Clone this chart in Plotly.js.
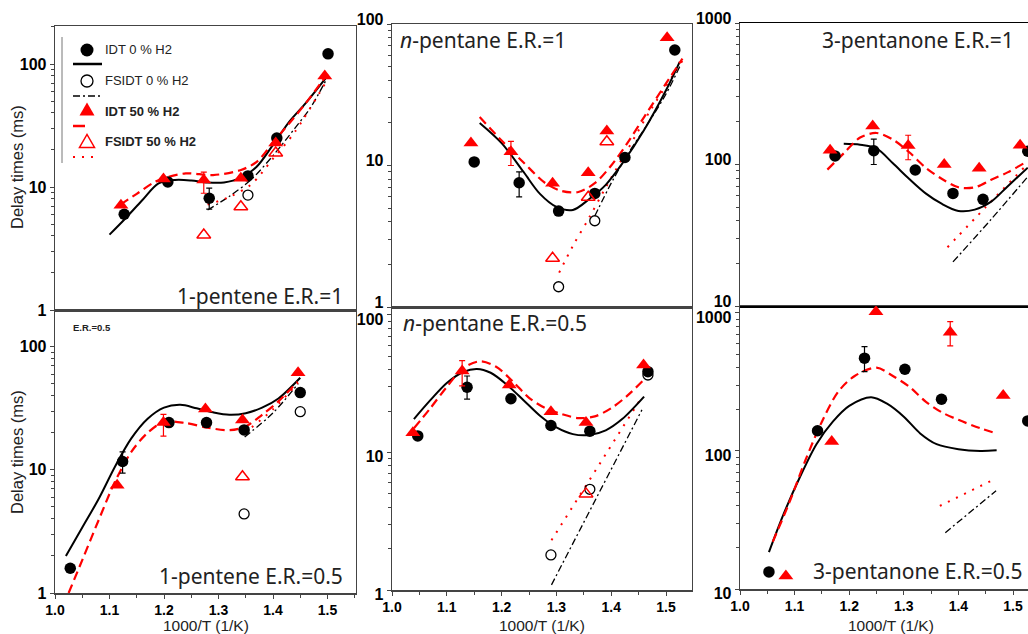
<!DOCTYPE html>
<html>
<head>
<meta charset="utf-8">
<script src="https://cdn.plot.ly/plotly-3.0.1.min.js"></script>
<style>
html,body{margin:0;padding:0;overflow:hidden;background:#fff;}
#chart{width:1050px;height:634px;}
</style>
</head>
<body>
<div id="chart"></div>
<script>
// ---------------- DATA ----------------
// Panel 1: 1-pentene E.R.=1
const pentene1_idt0_T = [1.127, 1.207, 1.283, 1.354, 1.407, 1.501];
const pentene1_idt0 = [6.0, 11.0, 8.1, 12.3, 25, 121];
const pentene1_idt0_hi = [null, null, 9.8, null, null, null];
const pentene1_idt0_lo = [null, null, 6.6, null, null, null];
const pentene1_fsidt0_T = [1.354];
const pentene1_fsidt0 = [8.6];
const pentene1_idt50_T = [1.121, 1.199, 1.273, 1.341, 1.405, 1.495];
const pentene1_idt50 = [7.1, 11.6, 11.4, 11.8, 22.8, 80];
const pentene1_idt50_hi = [null, null, 13.2, null, null, null];
const pentene1_idt50_lo = [null, null, 8.9, null, null, null];
const pentene1_fsidt50_T = [1.273, 1.341, 1.405];
const pentene1_fsidt50 = [4.07, 6.9, 18.9];
const pentene1_mod0_T = [1.10, 1.13, 1.16, 1.19, 1.22, 1.25, 1.28, 1.31, 1.34, 1.37, 1.40, 1.43, 1.46, 1.50];
const pentene1_mod0 = [4.1, 5.6, 7.8, 10.7, 11.4, 11.3, 10.9, 10.9, 11.8, 14.6, 22, 34, 48, 80];
const pentene1_fsmod0_T = [1.28, 1.32, 1.36, 1.40, 1.44, 1.47, 1.50];
const pentene1_fsmod0 = [6.5, 8.4, 11.5, 18, 30, 45, 78];
const pentene1_mod50_T = [1.12, 1.15, 1.18, 1.20, 1.24, 1.29, 1.34, 1.37, 1.40, 1.43, 1.46, 1.50];
const pentene1_mod50 = [7.2, 8.8, 10.8, 11.8, 12.9, 12.5, 13.7, 16, 23, 33, 48, 83];
const pentene1_fsmod50_T = [1.28, 1.32, 1.36, 1.40, 1.44, 1.50];
const pentene1_fsmod50 = [7.2, 8.3, 10.5, 17, 28, 75];

// Panel 2: n-pentane E.R.=1
const pentane1_idt0_T = [1.150, 1.232, 1.304, 1.370, 1.425, 1.516];
const pentane1_idt0 = [10.6, 7.55, 4.76, 6.35, 11.4, 65.5];
const pentane1_idt0_hi = [null, 9.0, null, null, null, null];
const pentane1_idt0_lo = [null, 6.0, null, null, null, null];
const pentane1_fsidt0_T = [1.304, 1.370];
const pentane1_fsidt0 = [1.39, 4.07];
const pentane1_idt50_T = [1.144, 1.217, 1.293, 1.358, 1.392, 1.502];
const pentane1_idt50 = [14.4, 12.5, 7.5, 8.9, 17.5, 80];
const pentane1_idt50_hi = [null, 14.8, null, null, null, null];
const pentane1_idt50_lo = [null, 10.0, null, null, null, null];
const pentane1_fsidt50_T = [1.293, 1.358, 1.392];
const pentane1_fsidt50 = [2.21, 5.96, 14.7];
const pentane1_mod0_T = [1.16, 1.20, 1.24, 1.27, 1.30, 1.33, 1.36, 1.39, 1.42, 1.46, 1.50, 1.525];
const pentane1_mod0 = [20, 14.4, 9.0, 6.3, 5.1, 4.85, 5.8, 7.3, 10.3, 17.8, 34, 54];
const pentane1_fsmod0_T = [1.37, 1.40, 1.43, 1.46, 1.50, 1.525];
const pentane1_fsmod0 = [4.4, 7.5, 12, 18, 32, 50];
const pentane1_mod50_T = [1.16, 1.20, 1.24, 1.28, 1.31, 1.34, 1.37, 1.40, 1.43, 1.46, 1.50, 1.53];
const pentane1_mod50 = [22, 15, 10.5, 7.5, 6.6, 6.5, 7.5, 10, 14.5, 22, 38, 57];
const pentane1_fsmod50_T = [1.305, 1.33, 1.36, 1.39, 1.43, 1.47, 1.53];
const pentane1_fsmod50 = [1.75, 2.7, 4.3, 7, 13, 24, 55];

// Panel 3: 3-pentanone E.R.=1
const pentanone1_idt0_T = [1.174, 1.245, 1.321, 1.390, 1.445, 1.527];
const pentanone1_idt0 = [115, 125, 91.5, 62.5, 56.7, 124];
const pentanone1_idt0_hi = [null, 151, null, null, null, null];
const pentanone1_idt0_lo = [null, 100, null, null, null, null];
const pentanone1_idt50_T = [1.165, 1.243, 1.308, 1.374, 1.438, 1.513];
const pentanone1_idt50 = [126, 187, 136, 100, 94, 137];
const pentanone1_idt50_hi = [null, null, 161, null, null, null];
const pentanone1_idt50_lo = [null, null, 108, null, null, null];
const pentanone1_mod0_T = [1.19, 1.22, 1.25, 1.28, 1.31, 1.34, 1.37, 1.40, 1.43, 1.46, 1.49, 1.527];
const pentanone1_mod0 = [140, 138, 130, 102, 79, 62.5, 52.6, 47, 48, 54.6, 70, 95];
const pentanone1_fsmod0_T = [1.39, 1.46, 1.527];
const pentanone1_fsmod0 = [20.5, 41, 82];
const pentanone1_mod50_T = [1.16, 1.19, 1.22, 1.25, 1.28, 1.31, 1.34, 1.37, 1.40, 1.43, 1.46, 1.49, 1.52];
const pentanone1_mod50 = [92, 120, 155, 167, 150, 122, 95, 79, 69, 69, 78, 88, 102];
const pentanone1_fsmod50_T = [1.38, 1.45, 1.52];
const pentanone1_fsmod50 = [26, 50, 95];

// Panel 4: 1-pentene E.R.=0.5
const pentene05_idt0_T = [1.028, 1.124, 1.209, 1.278, 1.347, 1.450];
const pentene05_idt0 = [1.59, 11.7, 24.2, 24.2, 21.1, 42.4];
const pentene05_idt0_hi = [null, 14.0, null, null, null, null];
const pentene05_idt0_lo = [null, 9.4, null, null, null, null];
const pentene05_fsidt0_T = [1.347, 1.450];
const pentene05_fsidt0 = [4.39, 29.7];
const pentene05_idt50_T = [1.114, 1.199, 1.276, 1.344, 1.446];
const pentene05_idt50 = [7.5, 24.2, 31.2, 25.4, 61.5];
const pentene05_idt50_hi = [null, 28.2, null, null, null];
const pentene05_idt50_lo = [null, 18.8, null, null, null];
const pentene05_fsidt50_T = [1.344];
const pentene05_fsidt50 = [8.8];
const pentene05_mod0_T = [1.02, 1.05, 1.08, 1.11, 1.14, 1.17, 1.20, 1.23, 1.26, 1.29, 1.32, 1.35, 1.38, 1.41, 1.45];
const pentene05_mod0 = [2.0, 3.4, 5.8, 10.6, 18, 26, 32, 33.7, 31.6, 29.3, 28, 28.8, 32, 38, 56];
const pentene05_fsmod0_T = [1.348, 1.40, 1.446];
const pentene05_fsmod0 = [18.5, 29, 50];
const pentene05_mod50_T = [1.025, 1.05, 1.08, 1.11, 1.14, 1.17, 1.20, 1.24, 1.28, 1.32, 1.35, 1.38, 1.41, 1.445];
const pentene05_mod50 = [1.0, 1.85, 3.9, 8.0, 14, 20, 24.5, 24, 22, 21, 22.5, 28, 36, 52];
const pentene05_fsmod50_T = [1.348, 1.40, 1.446];
const pentene05_fsmod50 = [20, 31, 51];

// Panel 5: n-pentane E.R.=0.5
const pentane05_idt0_T = [1.047, 1.137, 1.217, 1.290, 1.361, 1.467];
const pentane05_idt0 = [13.2, 29.8, 24.6, 15.7, 14.3, 38.7];
const pentane05_idt0_hi = [null, 36, null, null, null, null];
const pentane05_idt0_lo = [null, 24.4, null, null, null, null];
const pentane05_fsidt0_T = [1.290, 1.361, 1.467];
const pentane05_fsidt0 = [1.80, 5.4, 36.6];
const pentane05_idt50_T = [1.038, 1.128, 1.214, 1.290, 1.354, 1.459];
const pentane05_idt50 = [13.9, 39.2, 31, 19.8, 16.5, 43.3];
const pentane05_idt50_hi = [null, 46.6, null, null, null, null];
const pentane05_idt50_lo = [null, 30.5, null, null, null, null];
const pentane05_fsidt50_T = [1.354];
const pentane05_fsidt50 = [5.0];
const pentane05_mod0_T = [1.04, 1.07, 1.10, 1.13, 1.155, 1.18, 1.21, 1.24, 1.27, 1.30, 1.33, 1.36, 1.39, 1.42, 1.46];
const pentane05_mod0 = [17.5, 24, 32, 38.5, 40.5, 38, 31, 24, 18.5, 15.2, 13.6, 13.4, 14.5, 17.5, 25.5];
const pentane05_fsmod0_T = [1.291, 1.456];
const pentane05_fsmod0 = [1.09, 20.4];
const pentane05_mod50_T = [1.04, 1.07, 1.10, 1.13, 1.16, 1.19, 1.22, 1.25, 1.28, 1.31, 1.34, 1.37, 1.40, 1.43, 1.46];
const pentane05_mod50 = [15, 21, 30, 41, 46, 42, 33, 25, 21, 19, 17.8, 18.3, 21, 26, 34];
const pentane05_fsmod50_T = [1.291, 1.455];
const pentane05_fsmod50 = [2.3, 25];

// Panel 6: 3-pentanone E.R.=0.5
const pentanone05_idt0_T = [1.053, 1.142, 1.228, 1.302, 1.369, 1.527];
const pentanone05_idt0 = [13.3, 140, 470, 391, 237, 165];
const pentanone05_idt0_hi = [null, null, 570, null, null, null];
const pentanone05_idt0_lo = [null, null, 376, null, null, null];
const pentanone05_idt50_T = [1.084, 1.168, 1.249, 1.385, 1.482];
const pentanone05_idt50 = [12.4, 117, 1020, 725, 252];
const pentanone05_idt50_hi = [null, null, null, 865, null];
const pentanone05_idt50_lo = [null, null, null, 577, null];
const pentanone05_mod0_T = [1.053, 1.08, 1.11, 1.14, 1.17, 1.20, 1.24, 1.27, 1.30, 1.33, 1.36, 1.40, 1.44, 1.47];
const pentanone05_mod0 = [18.5, 35, 65, 112, 163, 212, 245, 219, 177, 134, 112, 103, 100, 101];
const pentanone05_fsmod0_T = [1.376, 1.469];
const pentanone05_fsmod0 = [25.6, 51.5];
const pentanone05_mod50_T = [1.06, 1.09, 1.12, 1.15, 1.18, 1.21, 1.25, 1.28, 1.31, 1.34, 1.37, 1.40, 1.44, 1.47];
const pentanone05_mod50 = [22, 42, 86, 163, 269, 349, 401, 349, 292, 228, 190, 168, 146, 134];
const pentanone05_fsmod50_T = [1.366, 1.468];
const pentanone05_fsmod50 = [40, 63];

// Tick labels and texts
const xTickVals = [1.0, 1.1, 1.2, 1.3, 1.4, 1.5];
const xTickText = ['1.0', '1.1', '1.2', '1.3', '1.4', '1.5'];
const legendLabels = ['IDT 0 % H2', 'FSIDT 0 % H2', 'IDT 50 % H2', 'FSIDT 50 % H2'];
const panelLabels = ['1-pentene E.R.=1', '<i>n</i>-pentane E.R.=1', '3-pentanone E.R.=1',
                     '1-pentene E.R.=0.5', '<i>n</i>-pentane E.R.=0.5', '3-pentanone E.R.=0.5'];
const xTitle = '1000/T (1/K)';
const yTitle = 'Delay times (ms)';

// ---------------- LAYOUT HELPERS ----------------
const W = 1050, H = 634;
const PX = v => v / W;
const PY = v => 1 - v / H;
const RED = '#ff0000';
const ARIAL = 'Liberation Sans, Arial, sans-serif';
const YTICKFONT = {family: ARIAL, size: 16, color: '#000', weight: 'bold'};
const XTICKFONT = {family: ARIAL, size: 14, color: '#000', weight: 'bold'};
const LABFONT = {family: 'Noto Sans, Open Sans, sans-serif', size: 21, color: '#222'};

function errArrays(y, hi, lo) {
  return {
    type: 'data', symmetric: false,
    array: y.map((v, i) => hi[i] == null ? NaN : hi[i] - v),
    arrayminus: y.map((v, i) => lo[i] == null ? NaN : v - lo[i]),
    thickness: 1.2, width: 3
  };
}
function lineTr(x, y, ax, line) {
  return {x: x, y: y, xaxis: 'x' + ax, yaxis: 'y' + ax, mode: 'lines',
          line: Object.assign({shape: 'spline', smoothing: 0.9}, line), hoverinfo: 'skip'};
}
function markTr(x, y, ax, marker, err, errColor) {
  const t = {x: x, y: y, xaxis: 'x' + ax, yaxis: 'y' + ax, mode: 'markers', marker: marker, cliponaxis: true};
  if (err) { err.color = errColor; t.error_y = err; }
  return t;
}
const ST = {
  mod0: {color: '#000', width: 2},
  fsmod0: {color: '#000', width: 1.3, dash: '7px,3px,2px,3px'},
  mod50: {color: RED, width: 2.2, dash: '9px,5px'},
  fsmod50: {color: RED, width: 2, dash: '2px,7px'}
};
const MK = {
  idt0: {symbol: 'circle', size: 11.5, color: '#000'},
  fsidt0: {symbol: 'circle-open', size: 10, color: '#000', line: {width: 1.3}},
  idt50: {symbol: 'triangle-up', size: 13, color: RED},
  fsidt50: {symbol: 'triangle-up-open', size: 12, color: RED, line: {width: 1.5}}
};

const traces = [];
function addPanel(ax, d) {
  if (d.fsmod0) traces.push(lineTr(d.fsmod0[0], d.fsmod0[1], ax, ST.fsmod0));
  if (d.fsmod50) traces.push(lineTr(d.fsmod50[0], d.fsmod50[1], ax, ST.fsmod50));
  traces.push(lineTr(d.mod0[0], d.mod0[1], ax, ST.mod0));
  traces.push(lineTr(d.mod50[0], d.mod50[1], ax, ST.mod50));
  traces.push(markTr(d.idt0[0], d.idt0[1], ax, MK.idt0, errArrays(d.idt0[1], d.idt0[2], d.idt0[3]), '#000'));
  if (d.fsidt0) traces.push(markTr(d.fsidt0[0], d.fsidt0[1], ax, MK.fsidt0));
  traces.push(markTr(d.idt50[0], d.idt50[1], ax, MK.idt50, errArrays(d.idt50[1], d.idt50[2], d.idt50[3]), RED));
  if (d.fsidt50) traces.push(markTr(d.fsidt50[0], d.fsidt50[1], ax, MK.fsidt50));
}

addPanel('', {
  idt0: [pentene1_idt0_T, pentene1_idt0, pentene1_idt0_hi, pentene1_idt0_lo],
  fsidt0: [pentene1_fsidt0_T, pentene1_fsidt0],
  idt50: [pentene1_idt50_T, pentene1_idt50, pentene1_idt50_hi, pentene1_idt50_lo],
  fsidt50: [pentene1_fsidt50_T, pentene1_fsidt50],
  mod0: [pentene1_mod0_T, pentene1_mod0], fsmod0: [pentene1_fsmod0_T, pentene1_fsmod0],
  mod50: [pentene1_mod50_T, pentene1_mod50], fsmod50: [pentene1_fsmod50_T, pentene1_fsmod50]
});
addPanel('2', {
  idt0: [pentane1_idt0_T, pentane1_idt0, pentane1_idt0_hi, pentane1_idt0_lo],
  fsidt0: [pentane1_fsidt0_T, pentane1_fsidt0],
  idt50: [pentane1_idt50_T, pentane1_idt50, pentane1_idt50_hi, pentane1_idt50_lo],
  fsidt50: [pentane1_fsidt50_T, pentane1_fsidt50],
  mod0: [pentane1_mod0_T, pentane1_mod0], fsmod0: [pentane1_fsmod0_T, pentane1_fsmod0],
  mod50: [pentane1_mod50_T, pentane1_mod50], fsmod50: [pentane1_fsmod50_T, pentane1_fsmod50]
});
addPanel('3', {
  idt0: [pentanone1_idt0_T, pentanone1_idt0, pentanone1_idt0_hi, pentanone1_idt0_lo],
  idt50: [pentanone1_idt50_T, pentanone1_idt50, pentanone1_idt50_hi, pentanone1_idt50_lo],
  mod0: [pentanone1_mod0_T, pentanone1_mod0], fsmod0: [pentanone1_fsmod0_T, pentanone1_fsmod0],
  mod50: [pentanone1_mod50_T, pentanone1_mod50], fsmod50: [pentanone1_fsmod50_T, pentanone1_fsmod50]
});
addPanel('4', {
  idt0: [pentene05_idt0_T, pentene05_idt0, pentene05_idt0_hi, pentene05_idt0_lo],
  fsidt0: [pentene05_fsidt0_T, pentene05_fsidt0],
  idt50: [pentene05_idt50_T, pentene05_idt50, pentene05_idt50_hi, pentene05_idt50_lo],
  fsidt50: [pentene05_fsidt50_T, pentene05_fsidt50],
  mod0: [pentene05_mod0_T, pentene05_mod0], fsmod0: [pentene05_fsmod0_T, pentene05_fsmod0],
  mod50: [pentene05_mod50_T, pentene05_mod50], fsmod50: [pentene05_fsmod50_T, pentene05_fsmod50]
});
addPanel('5', {
  idt0: [pentane05_idt0_T, pentane05_idt0, pentane05_idt0_hi, pentane05_idt0_lo],
  fsidt0: [pentane05_fsidt0_T, pentane05_fsidt0],
  idt50: [pentane05_idt50_T, pentane05_idt50, pentane05_idt50_hi, pentane05_idt50_lo],
  fsidt50: [pentane05_fsidt50_T, pentane05_fsidt50],
  mod0: [pentane05_mod0_T, pentane05_mod0], fsmod0: [pentane05_fsmod0_T, pentane05_fsmod0],
  mod50: [pentane05_mod50_T, pentane05_mod50], fsmod50: [pentane05_fsmod50_T, pentane05_fsmod50]
});
addPanel('6', {
  idt0: [pentanone05_idt0_T, pentanone05_idt0, pentanone05_idt0_hi, pentanone05_idt0_lo],
  idt50: [pentanone05_idt50_T, pentanone05_idt50, pentanone05_idt50_hi, pentanone05_idt50_lo],
  mod0: [pentanone05_mod0_T, pentanone05_mod0], fsmod0: [pentanone05_fsmod0_T, pentanone05_fsmod0],
  mod50: [pentanone05_mod50_T, pentanone05_mod50], fsmod50: [pentanone05_fsmod50_T, pentanone05_fsmod50]
});

// ---------------- AXES ----------------
function minorVals(lo, hi) {
  const out = [];
  for (let e = lo; e < hi; e++) for (let k = 2; k <= 9; k++) out.push(k * Math.pow(10, e));
  return out;
}
function yAx(dom, range, vals, anchor, shift) {
  return {
    type: 'log', domain: [PY(dom[1]), PY(dom[0])], range: range, anchor: anchor,
    tickmode: 'array', tickvals: vals, ticktext: vals.map(String),
    ticks: 'outside', ticklen: 4, tickwidth: 1, tickcolor: '#444',
    showline: true, linecolor: '#444', linewidth: 1.3, mirror: true,
    showgrid: false, zeroline: false, tickfont: YTICKFONT, automargin: false,
    ticklabelshift: shift || 0,
    minor: {ticks: 'outside', ticklen: 2.5, tickwidth: 1, tickcolor: '#444',
            tickmode: 'array', tickvals: minorVals(Math.floor(range[0]), Math.ceil(range[1]))}
  };
}
function xAx(dom, range, bottom, anchor, lc) {
  const a = {
    domain: [PX(dom[0]), PX(dom[1])], range: range, anchor: anchor,
    showline: true, linecolor: lc || '#444', linewidth: 1.5, mirror: true,
    showgrid: false, zeroline: false, automargin: false
  };
  if (bottom) {
    Object.assign(a, {
      tickmode: 'array', tickvals: xTickVals, ticktext: xTickText,
      ticks: 'outside', ticklen: 4, tickwidth: 1, tickcolor: '#444', tickfont: XTICKFONT,
      minor: {ticks: 'outside', ticklen: 3, tickwidth: 1, tickcolor: '#444',
              tickmode: 'array', tickvals: [1.05, 1.15, 1.25, 1.35, 1.45, 1.55]}
    });
  } else {
    Object.assign(a, {showticklabels: false, ticks: ''});
  }
  return a;
}

const layout = {
  width: W, height: H, margin: {l: 0, r: 0, t: 0, b: 0},
  paper_bgcolor: '#fff', plot_bgcolor: 'rgba(0,0,0,0)', showlegend: false,
  xaxis:  xAx([55, 356], [1.0, 1.5523], false, 'y'),
  yaxis:  yAx([26, 310], [0, 2.309], [1, 10, 100], 'x'),
  xaxis2: xAx([392, 692], [1.0, 1.5474], false, 'y2'),
  yaxis2: yAx([24, 307], [0, 2], [1, 10, 100], 'x2', -5),
  xaxis3: xAx([740, 1046], [1.0, 1.5604], false, 'y3', '#000'),
  yaxis3: yAx([23, 306], [1, 3], [10, 100, 1000], 'x3', -5),
  xaxis4: xAx([55, 356], [1.0, 1.5523], true, 'y4'),
  yaxis4: yAx([310, 593], [0, 2.298], [1, 10, 100], 'x4'),
  xaxis5: xAx([392, 692], [1.0, 1.5474], true, 'y5'),
  yaxis5: yAx([307, 590], [0, 2.058], [1, 10, 100], 'x5', 4),
  xaxis6: xAx([740, 1046], [1.0, 1.5604], true, 'y6'),
  yaxis6: yAx([306, 589], [1, 3.05], [10, 100, 1000], 'x6', 4),
  annotations: [],
  shapes: []
};

const ann = layout.annotations, shp = layout.shapes;
function txt(text, x, y, xanchor, font, extra) {
  ann.push(Object.assign({text: text, x: PX(x), y: PY(y), xref: 'paper', yref: 'paper',
    xanchor: xanchor, yanchor: 'middle', showarrow: false, font: font}, extra || {}));
}
// Axis titles
const YT = {family: ARIAL, size: 16.5, color: '#222'};
txt(yTitle, 17, 167, 'center', YT, {textangle: -90});
txt(yTitle, 17, 452, 'center', YT, {textangle: -90});
const XT = {family: ARIAL, size: 15.5, color: '#222'};
txt(xTitle, 206, 625.5, 'center', XT);
txt(xTitle, 542, 625.5, 'center', XT);
txt(xTitle, 891, 625.5, 'center', XT);
// Panel labels
txt(panelLabels[0], 345, 296, 'right', LABFONT);
txt(panelLabels[1], 398, 40, 'left', LABFONT);
txt(panelLabels[2], 820, 40, 'left', LABFONT);
txt(panelLabels[3], 345, 576, 'right', LABFONT);
txt(panelLabels[4], 401, 323, 'left', LABFONT);
txt(panelLabels[5], 811, 571, 'left', LABFONT);
txt('<b>E.R.=0.5</b>', 71, 327, 'left', {family: ARIAL, size: 9.5, color: '#222'});

// Legend (panel 1)
const LF = {family: ARIAL, size: 13, color: '#222'};
txt(legendLabels[0], 103, 50, 'left', LF);
txt(legendLabels[1], 103, 81, 'left', LF);
txt('<b>' + legendLabels[2] + '</b>', 103, 111, 'left', LF);
txt('<b>' + legendLabels[3] + '</b>', 103, 142, 'left', LF);
function pshape(kind, x, y, style) {
  const base = {xref: 'paper', yref: 'paper', xsizemode: 'pixel', ysizemode: 'pixel',
                xanchor: PX(x), yanchor: PY(y), layer: 'above'};
  if (kind === 'circle') Object.assign(base, {type: 'circle', x0: -6.5, x1: 6.5, y0: -6.5, y1: 6.5});
  if (kind === 'ocircle') Object.assign(base, {type: 'circle', x0: -6, x1: 6, y0: -6, y1: 6});
  if (kind === 'tri') Object.assign(base, {type: 'path', path: 'M -7.5,-5.5 L 7.5,-5.5 L 0,7.5 Z'});
  shp.push(Object.assign(base, style));
}
function lshape(x0, x1, y, line) {
  shp.push({type: 'line', xref: 'paper', yref: 'paper', x0: PX(x0), x1: PX(x1), y0: PY(y), y1: PY(y), line: line, layer: 'above'});
}
shp.push({type: 'line', xref: 'paper', yref: 'paper', x0: PX(62), x1: PX(62), y0: PY(37), y1: PY(163),
          line: {color: '#777', width: 1}, layer: 'above'});
pshape('circle', 87, 50, {fillcolor: '#000', line: {color: '#000', width: 0}});
lshape(73, 102, 64, {color: '#000', width: 2.5});
pshape('ocircle', 87, 81, {fillcolor: 'rgba(0,0,0,0)', line: {color: '#000', width: 1.3}});
lshape(73, 100, 96, {color: '#000', width: 1.3, dash: '7px,3px,2px,3px'});
pshape('tri', 87, 110, {fillcolor: RED, line: {color: RED, width: 0}});
lshape(73, 85, 126, {color: RED, width: 2.5});
pshape('tri', 87, 142, {fillcolor: 'rgba(0,0,0,0)', line: {color: RED, width: 1.5}});
lshape(73, 100, 157, {color: RED, width: 2, dash: '2px,7px'});

Plotly.newPlot('chart', traces, layout, {staticPlot: true, displayModeBar: false});
</script>
</body>
</html>
